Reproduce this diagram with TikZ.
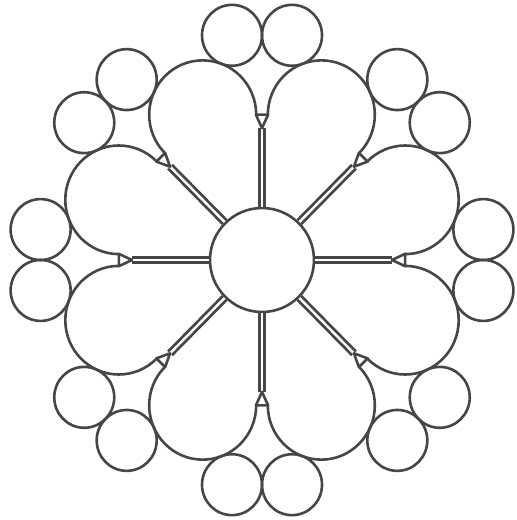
\documentclass[tikz,border=0pt]{standalone}
\definecolor{ink}{RGB}{72,70,68}
\tikzset{
  inkline/.style={draw=ink, line width=2.6pt},
  spoke/.style={draw=ink, line width=2.8pt, double=white, double distance=2.4pt},
  tri/.style={inkline, fill=white, line join=round},
  hubstyle/.style={circle, inkline, fill=white, minimum size=104pt, inner sep=0pt}
}
\begin{document}
\begin{tikzpicture}[x=1pt,y=-1pt]
\useasboundingbox[fill=white] (0,0) rectangle (517,520);
\begin{scope}[shift={(262,260)}, y=1.015pt]
  \node[hubstyle] (hub) at (0,0) {};
  \foreach \k in {0,...,7}{
    \pgfmathsetmacro\a{45*\k}
    \coordinate (tip\k) at ({\a}:130);
    \coordinate (bl\k) at ({\a+2.45}:143.33);
    \coordinate (br\k) at ({\a-2.45}:143.33);
  }
  % spokes
  \foreach \k in {0,...,7}{ \draw[spoke] (hub) -- (tip\k); }
  % lobes
  \foreach \k in {0,...,7}{
    \pgfmathsetmacro\b{22.5+45*\k}
    \draw[inkline] ({\b}:155) ++({\b-112.5}:53.5) arc[start angle={\b-112.5}, end angle={\b+112.5}, radius=53.5];
  }
  % triangles
  \foreach \k in {0,...,7}{ \draw[tri] (bl\k) -- (br\k) -- (tip\k) -- cycle; }
  % small circles
  \foreach \k in {0,...,7}{
    \pgfmathsetmacro\c{45*\k}
    \draw[inkline] ({\c+7.72}:223.4) circle[radius=30];
    \draw[inkline] ({\c-7.72}:223.4) circle[radius=30];
  }
\end{scope}
\end{tikzpicture}
\end{document}
